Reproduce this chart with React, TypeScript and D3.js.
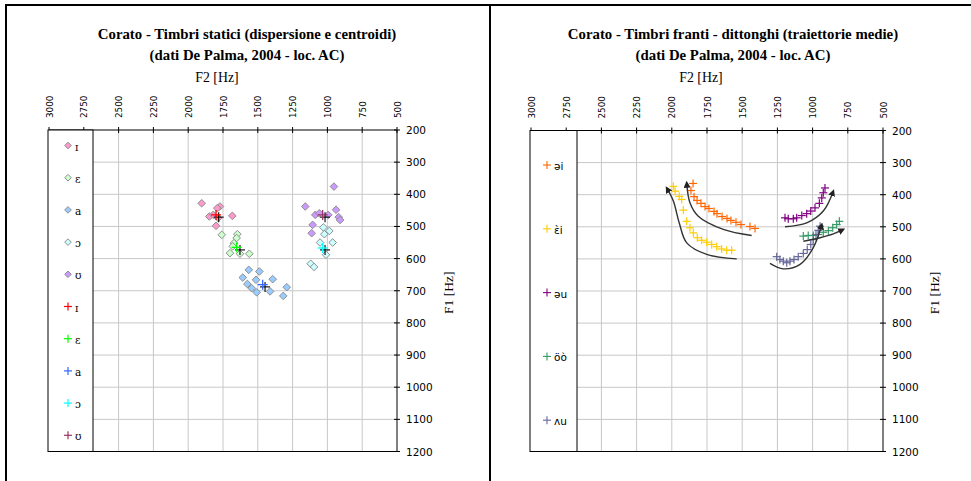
import React from "react";
import * as d3 from "d3";

// ---------- DATA ----------
const f2Ticks = [3000, 2750, 2500, 2250, 2000, 1750, 1500, 1250, 1000, 750, 500];
const f1Ticks = [200, 300, 400, 500, 600, 700, 800, 900, 1000, 1100, 1200];

const titleLeft1 = "Corato - Timbri statici (dispersione e centroidi)";
const titleRight1 = "Corato - Timbri franti - dittonghi (traiettorie medie)";
const titleSub = "(dati De Palma, 2004 - loc. AC)";

// static vowels: [F2, F1]
const dispI = [[1903, 428], [1772, 438], [1791, 443], [1848, 469], [1820, 464], [1784, 474], [1800, 498], [1683, 467]];
const dispE = [[1759, 526], [1647, 524], [1652, 536], [1671, 552], [1680, 562], [1700, 583], [1628, 585], [1561, 585]];
const dispA = [[1565, 635], [1489, 640], [1608, 659], [1513, 666], [1393, 664], [1575, 679], [1544, 692], [1508, 705], [1412, 702], [1292, 689], [1317, 716]];
const dispO = [[1029, 503], [986, 514], [1022, 524], [962, 550], [1053, 550], [1010, 588], [1120, 616], [1096, 626]];
const dispU = [[953, 376], [1159, 438], [1087, 464], [1058, 459], [994, 464], [938, 448], [919, 471], [909, 480], [1106, 495], [1113, 521]];
const centroids = [[1800, 464], [1652, 565], [1465, 681], [1034, 567], [1034, 464]];
const centroidsRef = [[1781, 471], [1628, 573], [1448, 688], [1017, 573], [1017, 471]];

const staticLabels = ["ɪ", "ɛ", "a", "ɔ", "ʊ"];
const diamondColors = ["#FF99CC", "#CCFFCC", "#99CCFF", "#CCFFFF", "#CC99FF"];
const crossColors = ["#FF0000", "#00FF00", "#3366FF", "#00FFFF", "#993366"];

// diphthong trajectories
const trajEI = [[1849, 365], [1864, 387], [1842, 406], [1821, 418], [1793, 427], [1764, 437], [1736, 443], [1700, 452], [1679, 459], [1643, 468], [1608, 474], [1580, 480], [1544, 486], [1509, 493], [1445, 499], [1409, 505]];
const trajEEI = [[1989, 374], [1977, 389], [1947, 405], [1930, 415], [1918, 448], [1894, 483], [1871, 503], [1847, 519], [1819, 534], [1788, 542], [1752, 548], [1717, 555], [1681, 562], [1646, 569], [1610, 573], [1575, 573]];
const trajEU = [[1196, 472], [1173, 475], [1137, 475], [1113, 472], [1077, 465], [1042, 459], [1013, 451], [983, 441], [952, 427], [935, 410], [924, 394], [912, 379]];
const trajOO = [[1066, 529], [1031, 527], [995, 527], [960, 524], [924, 517], [888, 512], [857, 503], [829, 493], [810, 483]];
const trajAU = [[1255, 593], [1232, 602], [1208, 607], [1184, 612], [1161, 607], [1132, 602], [1102, 593], [1066, 583], [1038, 571], [1013, 555], [995, 540], [976, 524], [960, 511], [947, 498]];
const diphLabels = ["əi", "ɛ̀i", "əu", "öò", "ʌu"];
const diphColors = ["#FF6600", "#FFCC00", "#800080", "#339966", "#666699"];

// mean trajectory arrows
const arrowEI = [[1433, 527], [1634, 508], [1812, 467], [1871, 425], [1894, 363]];
const arrowEEI = [[1539, 600], [1752, 586], [1894, 550], [1947, 488], [1989, 420], [2036, 379]];
const arrowEU = [[1196, 500], [1042, 488], [924, 451], [853, 389]];
const arrowOO = [[1066, 545], [947, 534], [853, 522], [782, 508]];
const arrowAU = [[1303, 614], [1208, 631], [1089, 617], [995, 565], [935, 493]];

// ---------- COMPONENTS ----------
type Pt = number[];

const Cross = ({ x, y, s, color, w = 1.3 }: { x: number; y: number; s: number; color: string; w?: number }) => (
  <g stroke={color} strokeWidth={w}>
    <line x1={x - s} x2={x + s} y1={y} y2={y} />
    <line x1={x} x2={x} y1={y - s} y2={y + s} />
  </g>
);

const Diamond = ({ x, y, r, fill }: { x: number; y: number; r: number; fill: string }) => (
  <path d={`M${x},${y - r}L${x + r},${y}L${x},${y + r}L${x - r},${y}Z`} fill={fill} stroke="#8f8f8f" strokeWidth={1} />
);

function Panel({ x0, x1, y0, y1, cx, title1, legendW, children, legend }: any) {
  const xs = d3.scaleLinear().domain([3000, 500]).range([x0, x1]);
  const ys = d3.scaleLinear().domain([200, 1200]).range([y0, y1]);
  return (
    <g>
      <text x={cx} y={39} textAnchor="middle" fontFamily="'Liberation Serif', serif" fontWeight="bold" fontSize={14.8}>{title1}</text>
      <text x={cx} y={60} textAnchor="middle" fontFamily="'Liberation Serif', serif" fontWeight="bold" fontSize={14.8}>{titleSub}</text>
      <text x={(x0 + x1) / 2 - 6} y={82} textAnchor="middle" fontFamily="'Liberation Serif', serif" fontSize={13.8}>F2 [Hz]</text>
      {/* grid */}
      {f2Ticks.slice(1, -1).map((t) => (
        <line key={"vx" + t} x1={xs(t)} x2={xs(t)} y1={y0} y2={y1} stroke="#c8c8c8" strokeWidth={1} />
      ))}
      {f1Ticks.slice(1, -1).map((t) => (
        <line key={"hy" + t} x1={x0} x2={x1} y1={ys(t)} y2={ys(t)} stroke="#c8c8c8" strokeWidth={1} />
      ))}
      <line x1={x0} x2={x1} y1={y1} y2={y1} stroke="#000" strokeWidth={1} />
      {/* axes */}
      <line x1={x0} x2={x1} y1={y0} y2={y0} stroke="#000" strokeWidth={1} />
      {f2Ticks.map((t) => (
        <g key={"tx" + t}>
          <line x1={xs(t)} x2={xs(t)} y1={y0 - 3} y2={y0 + 3} stroke="#000" strokeWidth={1} />
          <text transform={`translate(${xs(t) + 0.5},${y0 - 12}) rotate(-90)`} dominantBaseline="central" fontFamily="'DejaVu Sans', sans-serif" fontSize={8.8} fill="#000">{t}</text>
        </g>
      ))}
      <line x1={x1} x2={x1} y1={y0} y2={y1} stroke="#000" strokeWidth={1} />
      {f1Ticks.map((t) => (
        <g key={"ty" + t}>
          <line x1={x1 - 3} x2={x1 + 3} y1={ys(t)} y2={ys(t)} stroke="#000" strokeWidth={1} />
          <text x={x1 + 9} y={ys(t)} dominantBaseline="central" fontFamily="'DejaVu Sans', sans-serif" fontSize={10.5} fill="#000">{t}</text>
        </g>
      ))}
      <text transform={`translate(${x1 + 51},${(y0 + y1) / 2 + 2}) rotate(-90)`} textAnchor="middle" dominantBaseline="central" fontFamily="'Liberation Serif', serif" fontSize={13.5}>F1 [Hz]</text>
      {children(xs, ys)}
      {/* legend */}
      <rect x={x0 - 1} y={y0} width={legendW} height={y1 - y0} fill="#fff" stroke="#000" strokeWidth={1} />
      {legend}
    </g>
  );
}

export default function App() {
  const L = { x0: 49, x1: 397, y0: 130, y1: 451.5 };
  const R = { x0: 531, x1: 883, y0: 130.5, y1: 451.5 };
  const lineGen = (xs: any, ys: any) =>
    d3.line<Pt>().x((d) => xs(d[0])).y((d) => ys(d[1])).curve(d3.curveCatmullRom.alpha(0.5));

  const staticSets = [dispI, dispE, dispA, dispO, dispU];
  const trajSets = [trajEI, trajEEI, trajEU, trajOO, trajAU];
  const arrows = [arrowEI, arrowEEI, arrowEU, arrowOO, arrowAU];

  const leftLegend = (
    <g>
      {staticLabels.map((lab, i) => {
        const y = L.y0 + 15.5 + i * 32.2;
        return (
          <g key={"ld" + i}>
            <Diamond x={68} y={y} r={3.3} fill={diamondColors[i]} />
            <text x={75} y={y + 1} dominantBaseline="central" fontFamily="'DejaVu Serif', serif" fontSize={10.5}>{lab}</text>
          </g>
        );
      })}
      {staticLabels.map((lab, i) => {
        const y = L.y0 + 15.5 + (i + 5) * 32.2;
        return (
          <g key={"lc" + i}>
            <Cross x={68} y={y} s={4} color={crossColors[i]} w={1.2} />
            <text x={75} y={y + 1} dominantBaseline="central" fontFamily="'DejaVu Serif', serif" fontSize={10.5}>{lab}</text>
          </g>
        );
      })}
    </g>
  );

  const rightLegend = (
    <g>
      {diphLabels.map((lab, i) => {
        const y = R.y0 + 34.5 + i * 63.8;
        return (
          <g key={"rl" + i}>
            <Cross x={547} y={y} s={4} color={diphColors[i]} w={1.1} />
            <text x={554} y={y + 1} dominantBaseline="central" fontFamily="'DejaVu Sans', sans-serif" fontSize={10.5}>{lab}</text>
          </g>
        );
      })}
    </g>
  );

  return (
    <svg width={971} height={481} style={{ position: "fixed", left: 0, top: 0, background: "#fff" }}>
      <defs>
        <marker id="ah" viewBox="0 0 10 10" refX={7} refY={5} markerWidth={7} markerHeight={7} orient="auto" markerUnits="userSpaceOnUse">
          <path d="M0,0L10,5L0,10Z" fill="#222" />
        </marker>
      </defs>
      <rect x={0} y={0} width={971} height={481} fill="#fff" />
      {/* frames */}
      <line x1={5} x2={971} y1={5} y2={5} stroke="#000" strokeWidth={2} />
      <line x1={6} x2={6} y1={4} y2={481} stroke="#000" strokeWidth={2} />
      <line x1={490} x2={490} y1={4} y2={481} stroke="#000" strokeWidth={2} />

      <Panel {...L} cx={247} title1={titleLeft1} legendW={45} legend={leftLegend}>
        {(xs: any, ys: any) => (
          <g>
            {staticSets.map((set, i) =>
              set.map((p, j) => <Diamond key={`d${i}-${j}`} x={xs(p[0])} y={ys(p[1])} r={3.8} fill={diamondColors[i]} />)
            )}
            {centroidsRef.map((p, i) => <Cross key={"cr" + i} x={xs(p[0])} y={ys(p[1])} s={5} color="#000" w={1.1} />)}
            {centroids.map((p, i) => <Cross key={"c" + i} x={xs(p[0])} y={ys(p[1])} s={5} color={crossColors[i]} w={1.3} />)}
          </g>
        )}
      </Panel>

      <Panel {...R} cx={733} title1={titleRight1} legendW={47} legend={rightLegend}>
        {(xs: any, ys: any) => (
          <g>
            {trajSets.map((set, i) =>
              set.map((p, j) => <Cross key={`t${i}-${j}`} x={xs(p[0])} y={ys(p[1])} s={4} color={diphColors[i]} w={1.2} />)
            )}
            {arrows.map((a, i) => (
              <path key={"a" + i} d={lineGen(xs, ys)(a as Pt[]) || ""} fill="none" stroke="#333" strokeWidth={1.4} markerEnd="url(#ah)" />
            ))}
          </g>
        )}
      </Panel>
    </svg>
  );
}
